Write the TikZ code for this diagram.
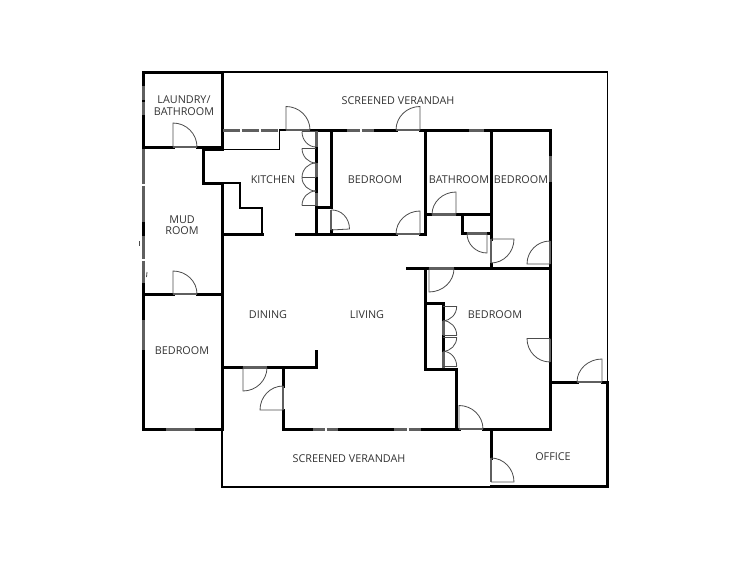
\documentclass[tikz,border=0pt]{standalone}
\usepackage{fontspec}
\setmainfont{Open Sans}
\usetikzlibrary{calc}
\definecolor{windowgray}{RGB}{95,95,95}
\tikzset{
    wall/.style = {line width=3pt, black, line cap=rect, line join=miter},
    thinwall/.style = {line width=1.4pt, black, line cap=rect, line join=miter},
    windowband/.style = {draw=windowgray, line width=3pt},
    doorjamb/.style = {draw=windowgray, line width=2.8pt},
    doorleaf/.style = {line width=0.8pt, black!70},
    roomlabel/.style = {font=\fontsize{10.8}{11.5}\selectfont, text=black!80, align=center, inner sep=0pt}
}
\newcommand{\door}[3]{
    \draw[doorjamb] (#1) -- (#3);
    \draw[doorleaf] (#1) -- (#2) .. controls ($(#2)+.552*(#3)-.552*(#1)$) and ($(#3)+.552*(#2)-.552*(#1)$) .. (#3);
}
\newcommand{\foldleaf}[3]{
    \draw[doorleaf] (#2) .. controls ($(#2)+.552*(#3)-.552*(#1)$) and ($(#3)+.552*(#2)-.552*(#1)$) .. (#3);
}
\newcommand{\window}[2]{\draw[windowband] (#1) -- (#2);}

\begin{document}
\begin{tikzpicture}[x=1pt,y=-1pt]
    \useasboundingbox (0,0) rectangle (750,562);

    % verandah outline
    \draw[thinwall] (222,72) -- (607.5,72) -- (607.5,382);
    \draw[thinwall] (222,429) -- (222,487) -- (491,487);

    % outer and room walls
    \draw[wall] (143,148) -- (143,72) -- (222,72) -- (222,149.5);
    \draw[wall] (143,147) -- (173,147);
    \draw[wall] (197,147) -- (222,147);
    \draw[wall] (143,222) -- (143,235);
    \draw[wall] (143,284) -- (143,319);
    \draw[wall] (143,350) -- (143,429) -- (165,429);
    \draw[wall] (196,429) -- (222,429) -- (222,183) -- (203,183) -- (203,149.5) -- (222,149.5);
    \draw[wall] (143,294) -- (173,294);
    \draw[wall] (197,294) -- (222,294);
    \draw[wall] (222,367.5) -- (243,367.5);
    \draw[wall] (267,367.5) -- (316,367.5) -- (316,351);
    \draw[wall] (283,367.5) -- (283,386);
    \draw[wall] (283,410) -- (283,429) -- (312,429);
    \draw[wall] (339,429) -- (393,429);
    \draw[wall] (422,429) -- (459,429);
    \draw[wall] (483,429) -- (550,429) -- (550,183);
    \draw[wall] (550,155) -- (550,130) -- (485,130);
    \draw[wall] (468,130) -- (420,130);
    \draw[wall] (396,130) -- (375,130);
    \draw[wall] (346,130) -- (310,130);
    \draw[thinwall] (279.5,130) -- (285,130);

    % kitchen
    \draw[thinwall] (222,149.5) -- (279.5,149.5) -- (279.5,130);
    \draw[thinwall] (222,183) -- (240,183) -- (240,208) -- (262,208) -- (262,234);
    \draw[wall] (222,234) -- (262,234);
    \draw[wall] (296,234) -- (396,234);
    \draw[wall] (420,234) -- (425,234) -- (425,130);
    \draw[wall] (331,130) -- (331,207) -- (316,207) -- (316,234);
    \draw[wall] (331,230) -- (331,234);
    \draw[wall] (316,148) -- (316,162);
    \draw[wall] (316,178) -- (316,192);

    % bathroom
    \draw[wall] (491,130) -- (491,239);
    \draw[wall] (425,214.5) -- (432,214.5);
    \draw[wall] (456,214.5) -- (491,214.5);
    \draw[wall] (462,214.5) -- (462,233.5) -- (467,233.5);
    \draw[wall] (487,233.5) -- (491,233.5);
    \draw[wall] (491,264) -- (491,268.5);
    \draw[wall] (407,268.5) -- (429,268.5);
    \draw[wall] (454,268.5) -- (550,268.5);

    % lower bedroom
    \draw[wall] (425.5,268.5) -- (425.5,369) -- (456,369) -- (456,429);
    \draw[wall] (425.5,303) -- (443,303);
    \draw[wall] (443,303) -- (443,320);
    \draw[wall] (443,336) -- (443,351);

    % office
    \draw[wall] (491,429) -- (491,458);
    \draw[wall] (491,486) -- (607.5,486) -- (607.5,382) -- (602,382);
    \draw[wall] (577,382) -- (550,382);

    % windows
    \window{143,86}{143,100}
    \window{143,101.5}{143,115}
    \window{143,149}{143,184}
    \window{143,185.5}{143,222}
    \window{143,236}{143,259}
    \window{143,260.5}{143,283}
    \window{143,320}{143,350}
    \window{166,429}{195,429}
    \window{223,130}{240,130}
    \window{241.5,130}{259,130}
    \window{260.5,130}{278,130}
    \window{347,130}{360,130}
    \window{361.5,130}{374,130}
    \window{469,130}{484,130}
    \window{550,156}{550,182}
    \window{313,429}{325,429}
    \window{326.5,429}{338,429}
    \window{394,429}{407,429}
    \window{408.5,429}{421,429}
    \window{316,131}{316,147}
    \window{316,163}{316,177}
    \window{316,193}{316,206}
    \window{443,321}{443,335}
    \window{443,352}{443,368}

    % doors: hinge, leaf end, arc end
    \door{173,147}{173,123}{197,147}
    \door{173,294}{173,271}{197,294}
    \door{286,130}{286,106.5}{310,130}
    \door{420,130}{420,106.5}{396,130}
    \door{331,230}{349.5,229}{331,210}
    \door{420,234}{420,211}{396,234}
    \door{456,214.5}{456,192}{432,214.5}
    \door{487,233.5}{487,253}{467,233.5}
    \door{491,239}{514,239}{491,263}
    \door{550,264}{527,264}{550,241}
    \door{429,268.5}{429,292}{454,268.5}
    \door{550,338.5}{527,338.5}{550,362}
    \door{459,429}{459,405.5}{483,429}
    \door{602,382}{602,359}{577,382}
    \door{491,482}{514,482}{491,458}
    \door{243,367.5}{243,391}{267,367.5}
    \door{283,410}{260,410}{283,386}

    % folding closet doors
    \draw[doorleaf] (316,131.7) -- (302,131.7);
    \draw[doorleaf] (316,148.3) -- (302,148.3);
    \draw[doorleaf] (316,177.5) -- (302,177.5);
    \draw[doorleaf] (316,205.5) -- (302,205.5);
    \foldleaf{316,131.7}{302,131.7}{316,147}
    \foldleaf{316,148.3}{302,148.3}{316,163}
    \foldleaf{316,177.5}{302,177.5}{316,163}
    \foldleaf{316,177.5}{302,177.5}{316,191}
    \foldleaf{316,205.5}{302,205.5}{316,191}
    \draw[doorleaf] (443,306.3) -- (456.7,306.3);
    \draw[doorleaf] (443,335.3) -- (456.7,335.3);
    \draw[doorleaf] (443,337.3) -- (456.7,337.3);
    \draw[doorleaf] (443,366.3) -- (456.7,366.3);
    \foldleaf{443,306.3}{456.7,306.3}{443,320.7}
    \foldleaf{443,335.3}{456.7,335.3}{443,320.7}
    \foldleaf{443,337.3}{456.7,337.3}{443,351.3}
    \foldleaf{443,366.3}{456.7,366.3}{443,351.3}

    % small marks by the mud room wall
    \draw[doorleaf] (139,241) -- (139,246);
    \draw[doorleaf] (147,272) -- (146.5,277);

    % room names
    \draw (184,105.5) node[roomlabel] (laundry) {LAUNDRY/\\BATHROOM};
    \draw (398,100.5) node[roomlabel] (verandahtop) {SCREENED VERANDAH};
    \draw (273,179.5) node[roomlabel] (kitchen) {KITCHEN};
    \draw (375,179.5) node[roomlabel] (bedroomone) {BEDROOM};
    \draw (459,179.5) node[roomlabel] (bathroom) {BATHROOM};
    \draw (521,179.5) node[roomlabel] (bedroomtwo) {BEDROOM};
    \draw (182,225) node[roomlabel] (mudroom) {MUD\\ROOM};
    \draw (268,314.5) node[roomlabel] (dining) {DINING};
    \draw (367,314.5) node[roomlabel] (living) {LIVING};
    \draw (495,314.5) node[roomlabel] (bedroomthree) {BEDROOM};
    \draw (182,350.5) node[roomlabel] (bedroomfour) {BEDROOM};
    \draw (349,458.5) node[roomlabel] (verandahlow) {SCREENED VERANDAH};
    \draw (553,456.5) node[roomlabel] (office) {OFFICE};
\end{tikzpicture}
\end{document}
